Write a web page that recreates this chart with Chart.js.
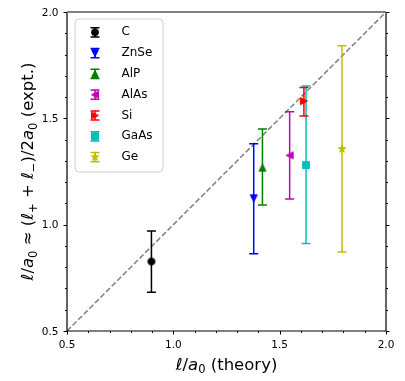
<!DOCTYPE html>
<html><head><meta charset="utf-8">
<script src="https://cdn.jsdelivr.net/npm/chart.js@4"></script>
<style>html,body{margin:0;padding:0;background:#fff;}</style>
</head><body>
<canvas id="c" width="405" height="381" style="display:block;width:405px;height:381px"></canvas>
<script>
// ---- data ----
const materials = ['C','ZnSe','AlP','AlAs','Si','GaAs','Ge'];
const theoryValues = [0.897,1.378,1.419,1.547,1.614,1.624,1.793];
const exptValues   = [0.827,1.124,1.268,1.326,1.581,1.280,1.356];
const exptLower    = [0.682,0.863,1.092,1.121,1.511,0.912,0.871];
const exptUpper    = [0.970,1.381,1.450,1.531,1.645,1.652,1.841];
const xTickValues = [0.5,1.0,1.5,2.0];
const yTickValues = [0.5,1.0,1.5,2.0];
const parityLine = [0.5,2.0];

// ---- styles ----
const markerColors = ['#000000','#0000ff','#008000','#bf00bf','#ff0000','#00bfbf','#bfbf00'];
const markerShapes = ['o','v','^','<','>','s','*'];
const FONT = "'DejaVu Sans', sans-serif";
const TITLE_SIZE = 16.5;
const TICK_SIZE = 10.5;

function shapePath(ctx, shape, cx, cy, h){
  ctx.beginPath();
  if(shape==='o'){ ctx.arc(cx,cy,h,0,Math.PI*2); }
  else if(shape==='v'){ ctx.moveTo(cx,cy+h); ctx.lineTo(cx-h,cy-h); ctx.lineTo(cx+h,cy-h); ctx.closePath(); }
  else if(shape==='^'){ ctx.moveTo(cx,cy-h); ctx.lineTo(cx-h,cy+h); ctx.lineTo(cx+h,cy+h); ctx.closePath(); }
  else if(shape==='<'){ ctx.moveTo(cx-h,cy); ctx.lineTo(cx+h,cy-h); ctx.lineTo(cx+h,cy+h); ctx.closePath(); }
  else if(shape==='>'){ ctx.moveTo(cx+h,cy); ctx.lineTo(cx-h,cy-h); ctx.lineTo(cx-h,cy+h); ctx.closePath(); }
  else if(shape==='s'){ ctx.rect(cx-h,cy-h,2*h,2*h); }
  else if(shape==='*'){
    const ro=h*1.15, ri=ro*0.381966;
    for(let k=0;k<10;k++){ const r=k%2?ri:ro; const a=-Math.PI/2+k*Math.PI/5;
      const px=cx+r*Math.cos(a), py=cy+r*Math.sin(a); k?ctx.lineTo(px,py):ctx.moveTo(px,py);} ctx.closePath();
  }
}
function makeMarker(shape,color){
  const cv=document.createElement('canvas'); cv.width=12; cv.height=12;
  const c=cv.getContext('2d');
  shapePath(c,shape,6,6,3.5);
  c.fillStyle=color; c.fill(); c.lineWidth=1; c.strokeStyle=color; c.stroke();
  return cv;
}
const markerImages = markerShapes.map((s,i)=>makeMarker(s,markerColors[i]));

const datasets = materials.map((m,i)=>({
  type:'scatter', label:m,
  data:[{x:theoryValues[i], y:exptValues[i], lo:exptLower[i], hi:exptUpper[i]}],
  pointStyle: markerImages[i], pointRadius:4, backgroundColor:markerColors[i], borderColor:markerColors[i],
  errColor: markerColors[i], order:1
}));
datasets.push({
  type:'line', label:'parity', data: parityLine.map(v=>({x:v,y:v})),
  borderColor:'#808080', borderWidth:1.5, borderDash:[5.5,2.4], pointRadius:0, fill:false, order:10
});

const errorBarPlugin = {
  id:'errbars',
  beforeDatasetDraw(chart,args){
    const ds=chart.data.datasets[args.index];
    if(!ds.errColor) return;
    const ctx=chart.ctx, xs=chart.scales.x, ys=chart.scales.y;
    ctx.save(); ctx.strokeStyle=ds.errColor; ctx.lineWidth=1.5;
    ds.data.forEach(p=>{
      const px=xs.getPixelForValue(p.x), y1=ys.getPixelForValue(p.lo), y2=ys.getPixelForValue(p.hi);
      ctx.beginPath(); ctx.moveTo(px,y1); ctx.lineTo(px,y2);
      ctx.moveTo(px-4.5,y1); ctx.lineTo(px+4.5,y1);
      ctx.moveTo(px-4.5,y2); ctx.lineTo(px+4.5,y2); ctx.stroke();
    });
    ctx.restore();
  }
};

function drawRich(ctx, segs, size){
  const parts=segs.map(s=>{
    const fs = s.sub? size*0.7 : size;
    const font=(s.it?'italic ':'')+fs+'px '+FONT;
    ctx.font=font; return {t:s.t, font, w:ctx.measureText(s.t).width, dy:s.sub?size*0.22:0};
  });
  const total=parts.reduce((a,p)=>a+p.w,0);
  let x=-total/2;
  ctx.textBaseline='alphabetic'; ctx.textAlign='left';
  parts.forEach(p=>{ ctx.font=p.font; ctx.fillText(p.t,x,p.dy); x+=p.w; });
}
const xTitle=[{t:'ℓ',it:1},{t:'/'},{t:'a',it:1},{t:'0',sub:1},{t:' (theory)'}];
const yTitle=[{t:'ℓ',it:1},{t:'/'},{t:'a',it:1},{t:'0',sub:1},{t:' ≈ ('},{t:'ℓ',it:1},{t:'+',sub:1},{t:' + '},
  {t:'ℓ',it:1},{t:'−',sub:1},{t:')/2'},{t:'a',it:1},{t:'0',sub:1},{t:' (expt.)'}];

const framePlugin = {
  id:'frame',
  afterDraw(chart){
    const ctx=chart.ctx, xs=chart.scales.x, ys=chart.scales.y, a=chart.chartArea;
    ctx.save();
    // minor/major ticks
    ctx.strokeStyle='#000'; ctx.lineWidth=1;
    for(let k=5;k<=20;k++){
      const v=k/10, major=(k%5===0), L=major?3.5:2;
      const px=Math.round(xs.getPixelForValue(v))+0.5, py=Math.round(ys.getPixelForValue(v))+0.5;
      ctx.beginPath();
      ctx.moveTo(px,a.bottom); ctx.lineTo(px,a.bottom+L);
      ctx.moveTo(a.left,py); ctx.lineTo(a.left-L,py);
      ctx.moveTo(a.right,py); ctx.lineTo(a.right+L,py);
      ctx.stroke();
    }
    // tick labels
    ctx.fillStyle='#000'; ctx.font=TICK_SIZE+'px '+FONT; ctx.textBaseline='alphabetic';
    ctx.textAlign='center';
    xs.ticks.forEach(t=>{ ctx.fillText(Number(t.value).toFixed(1), xs.getPixelForValue(t.value), a.bottom+17); });
    ctx.textAlign='right';
    ys.ticks.forEach(t=>{ ctx.fillText(Number(t.value).toFixed(1), a.left-8.5, ys.getPixelForValue(t.value)+3.8); });
    // spines
    ctx.lineWidth=1.2; ctx.strokeStyle='#000';
    ctx.beginPath();
    ctx.moveTo(a.left,a.top); ctx.lineTo(a.left,a.bottom); ctx.lineTo(a.right,a.bottom); ctx.lineTo(a.right,a.top);
    ctx.stroke();
    ctx.strokeStyle='#808080'; ctx.lineWidth=2;
    ctx.beginPath(); ctx.moveTo(a.left,a.top); ctx.lineTo(a.right,a.top); ctx.stroke();
    // axis titles
    ctx.fillStyle='#000';
    ctx.save(); ctx.translate((a.left+a.right)/2, 369.5); drawRich(ctx,xTitle,TITLE_SIZE); ctx.restore();
    ctx.save(); ctx.translate(33, (a.top+a.bottom)/2); ctx.rotate(-Math.PI/2); drawRich(ctx,yTitle,TITLE_SIZE); ctx.restore();
    // legend
    const lx=75, ly=19, lw=88, lh=153, r=4;
    ctx.beginPath();
    ctx.moveTo(lx+r,ly); ctx.arcTo(lx+lw,ly,lx+lw,ly+lh,r); ctx.arcTo(lx+lw,ly+lh,lx,ly+lh,r);
    ctx.arcTo(lx,ly+lh,lx,ly,r); ctx.arcTo(lx,ly,lx+lw,ly,r); ctx.closePath();
    ctx.fillStyle='rgba(255,255,255,0.8)'; ctx.fill();
    ctx.strokeStyle='#d0d0d0'; ctx.lineWidth=1; ctx.stroke();
    materials.forEach((m,i)=>{
      const cy=32.3+i*20.8, cx=95;
      ctx.strokeStyle=markerColors[i]; ctx.lineWidth=1.5;
      ctx.beginPath(); ctx.moveTo(cx,cy-4.6); ctx.lineTo(cx,cy+4.6);
      ctx.moveTo(cx-4.5,cy-4.6); ctx.lineTo(cx+4.5,cy-4.6);
      ctx.moveTo(cx-4.5,cy+4.6); ctx.lineTo(cx+4.5,cy+4.6); ctx.stroke();
      ctx.drawImage(markerImages[i], cx-6, cy-6);
      ctx.fillStyle='#000'; ctx.font='12px '+FONT; ctx.textBaseline='middle'; ctx.textAlign='left';
      ctx.fillText(m, 121.5, cy);
    });
    ctx.restore();
  }
};

new Chart(document.getElementById('c'), {
  type:'scatter',
  data:{datasets},
  options:{
    responsive:false, animation:false, devicePixelRatio:1,
    layout:{padding:{top:12,right:19,left:0,bottom:0}},
    plugins:{legend:{display:false}, tooltip:{enabled:false}},
    scales:{
      x:{type:'linear', min:0.5, max:2.0,
        afterBuildTicks:s=>{s.ticks=xTickValues.map(v=>({value:v}));},
        afterFit:s=>{s.height=50;},
        ticks:{display:false},
        grid:{display:false}, border:{display:false}},
      y:{type:'linear', min:0.5, max:2.0,
        afterBuildTicks:s=>{s.ticks=yTickValues.map(v=>({value:v}));},
        afterFit:s=>{s.width=67;},
        ticks:{display:false},
        grid:{display:false}, border:{display:false}}
    }
  },
  plugins:[errorBarPlugin, framePlugin]
});
</script>
</body></html>
